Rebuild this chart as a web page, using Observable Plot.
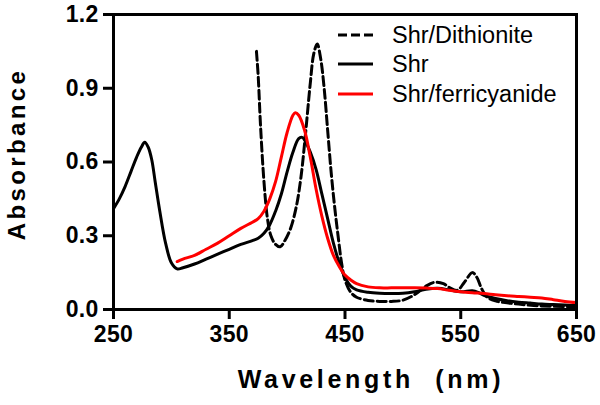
<!DOCTYPE html>
<html><head><meta charset="utf-8">
<script src="https://cdn.jsdelivr.net/npm/d3@7"></script>
<script src="https://cdn.jsdelivr.net/npm/@observablehq/plot@0.6"></script>
<style>
body{margin:0;background:#fff;}
#wrap{position:relative;width:600px;height:405px;font-family:"Liberation Sans",Arial,sans-serif;}
.row{position:absolute;left:338px;height:28px;display:flex;align-items:center;white-space:nowrap;}
.row svg{display:block;}
.row span{position:absolute;left:54px;font-size:23.5px;color:#000;line-height:28px;}
</style></head><body><div id="wrap"></div>
<script>
const seriesNames = ["Shr/Dithionite", "Shr", "Shr/ferricyanide"];
const xTicks = [250, 350, 450, 550, 650];
const yTicks = [0, 0.3, 0.6, 0.9, 1.2];
const xTitle = "Wavelength  (nm)";
const yTitle = "Absorbance";

const dithWl  = [373.5,375,377,380,383,386,390,394,398,403,408,412,416,420,423,426,429,432,435,438,441,444,447,450,455,460,470,480,490,500,510,520,527,535,540,547,553,560,564,568,573,580,590,600,613,630,650];
const dithAbs = [1.05,0.95,0.75,0.52,0.37,0.30,0.265,0.255,0.28,0.33,0.42,0.54,0.72,0.92,1.04,1.08,1.02,0.90,0.73,0.56,0.42,0.30,0.19,0.12,0.07,0.05,0.037,0.033,0.033,0.038,0.06,0.095,0.11,0.105,0.09,0.078,0.11,0.15,0.13,0.085,0.05,0.035,0.027,0.022,0.016,0.013,0.01];

const shrWl  = [250,255,260,265,270,274,277,280,283,286,290,295,300,305,310,320,330,340,350,360,370,375,380,385,390,395,400,405,410,413,415,420,425,430,435,440,445,450,455,460,470,480,490,500,510,520,530,540,550,560,565,570,580,590,600,610,620,630,640,650];
const shrAbs = [0.41,0.45,0.50,0.56,0.62,0.66,0.68,0.66,0.61,0.52,0.40,0.27,0.19,0.165,0.17,0.185,0.205,0.225,0.245,0.265,0.28,0.29,0.31,0.345,0.40,0.47,0.56,0.64,0.695,0.70,0.69,0.64,0.57,0.47,0.37,0.27,0.19,0.13,0.095,0.08,0.07,0.066,0.065,0.066,0.072,0.082,0.086,0.08,0.072,0.076,0.07,0.058,0.045,0.036,0.03,0.026,0.022,0.02,0.018,0.016];

const ferWl  = [305,310,320,330,340,350,360,370,375,380,385,390,395,400,405,407,410,415,420,425,430,435,440,445,450,455,460,470,480,490,500,510,520,530,540,550,560,570,580,590,600,610,620,630,640,650];
const ferAbs = [0.195,0.205,0.22,0.245,0.27,0.30,0.33,0.355,0.37,0.40,0.45,0.52,0.62,0.72,0.79,0.80,0.79,0.73,0.62,0.49,0.38,0.29,0.22,0.175,0.14,0.12,0.105,0.092,0.088,0.088,0.088,0.088,0.087,0.085,0.078,0.072,0.068,0.065,0.06,0.056,0.053,0.05,0.047,0.04,0.033,0.028];

const toRows = (wl, ab, s) => wl.map((w, i) => ({wl: w, abs: ab[i], series: s}));
const dith = toRows(dithWl, dithAbs, seriesNames[0]);
const shr = toRows(shrWl, shrAbs, seriesNames[1]);
const fer = toRows(ferWl, ferAbs, seriesNames[2]);

const colors = ["#000000", "#000000", "#ff0000"];
const dashes = ["9,4", null, null];
const fmtX = d => d3.format("d")(d);
const fmtY = d => d3.format(".1f")(d);

const chart = Plot.plot({
  width: 600, height: 405,
  marginLeft: 113, marginRight: 24, marginTop: 14, marginBottom: 96,
  style: {fontFamily: "'Liberation Sans', Arial, sans-serif", fontSize: "23px", fontWeight: "bold", color: "#000", background: "#fff"},
  x: {domain: [250, 650]},
  y: {domain: [0, 1.2]},
  marks: [
    Plot.line(dith, {x: "wl", y: "abs", stroke: colors[0], strokeWidth: 3, strokeDasharray: dashes[0], curve: "catmull-rom"}),
    Plot.line(shr, {x: "wl", y: "abs", stroke: colors[1], strokeWidth: 3, curve: "catmull-rom"}),
    Plot.line(fer, {x: "wl", y: "abs", stroke: colors[2], strokeWidth: 3, curve: "catmull-rom"}),
    Plot.frame({stroke: "#000", strokeWidth: 3}),
    Plot.axisX({ticks: xTicks, tickFormat: fmtX, tickSize: 10, tickPadding: 6, strokeWidth: 3, label: null, fontSize: 23}),
    Plot.axisY({ticks: yTicks, tickFormat: fmtY, tickSize: 10, tickPadding: 5, strokeWidth: 3, label: null, fontSize: 23}),
    Plot.text([xTitle], {frameAnchor: "bottom", textAnchor: "middle", dx: 26, dy: 78, fontSize: 25, fontWeight: "bold", text: d => d}),
    Plot.text([yTitle], {frameAnchor: "left", textAnchor: "middle", rotate: -90, dx: -96, dy: -8, fontSize: 24, fontWeight: "bold", text: d => d})
  ]
});

const tickStrings = new Set([...xTicks.map(fmtX), ...yTicks.map(fmtY)]);
const svg = d3.select(chart);
svg.selectAll("text").each(function() {
  const t = this.textContent;
  const sel = d3.select(this);
  if (t === xTitle) sel.style("letter-spacing", "3.7px").style("white-space", "pre").attr("xml:space", "preserve");
  else if (t === yTitle) sel.style("letter-spacing", "3.4px");
  else if (tickStrings.has(t)) sel.style("font-size", "23px").style("font-weight", "bold").style("letter-spacing", "0.3px");
});

const wrap = document.getElementById("wrap");
wrap.appendChild(chart);

const rowTops = [35, 64, 94];
seriesNames.forEach((name, i) => {
  const row = document.createElement("div");
  row.className = "row";
  row.style.top = (rowTops[i] - 14) + "px";
  const s = d3.create("svg").attr("width", 36).attr("height", 28);
  s.append("line").attr("x1", 0).attr("x2", 35).attr("y1", 14).attr("y2", 14)
    .attr("stroke", colors[i]).attr("stroke-width", 3)
    .attr("stroke-dasharray", dashes[i]);
  row.appendChild(s.node());
  const sp = document.createElement("span");
  sp.textContent = name;
  row.appendChild(sp);
  wrap.appendChild(row);
});
</script>
</body></html>
